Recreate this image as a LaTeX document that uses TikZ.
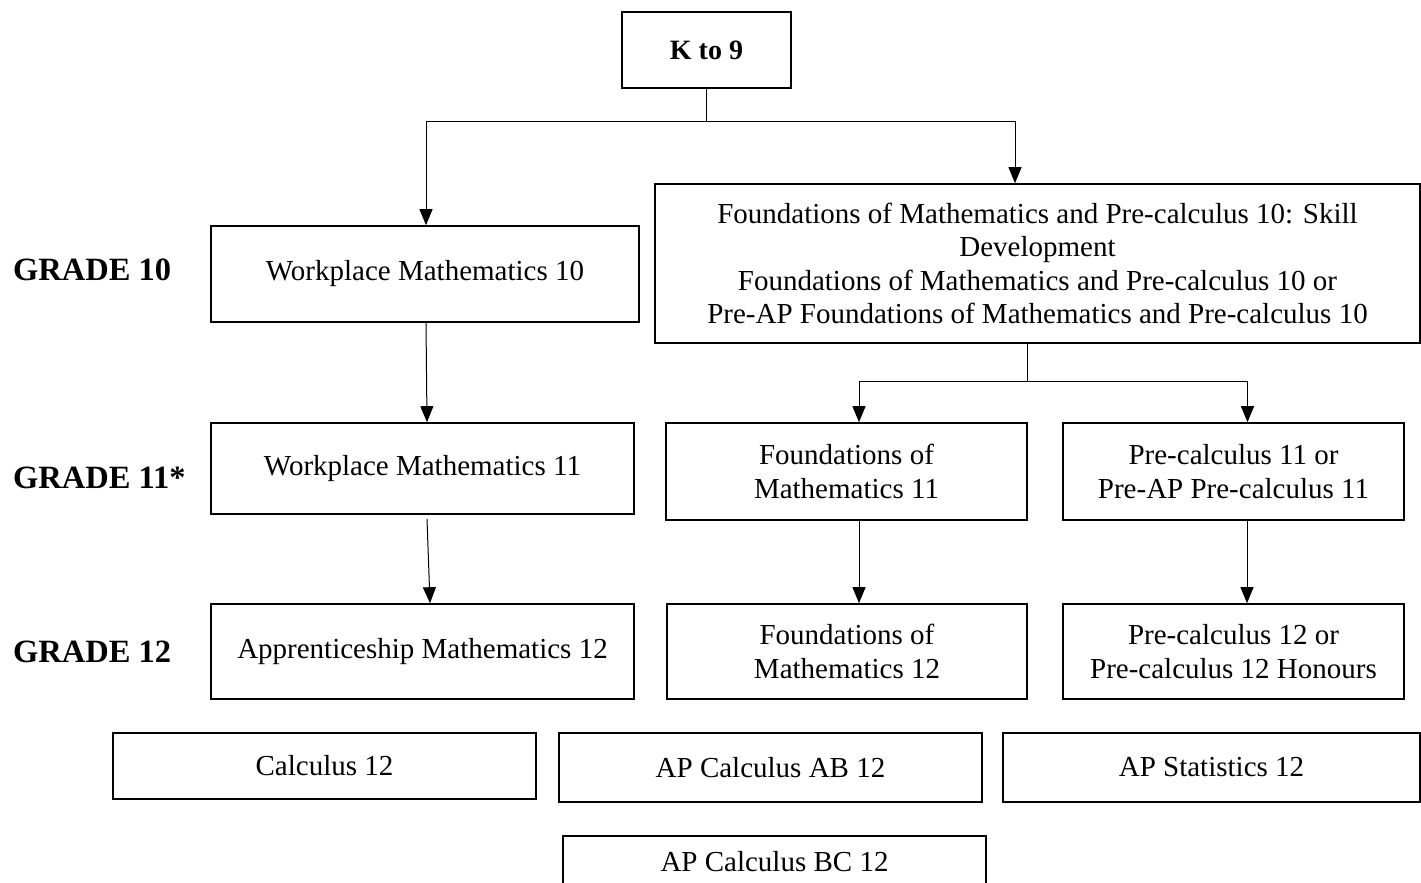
\documentclass[tikz,border=0pt]{standalone}
\usepackage{fontspec}
\setmainfont{Liberation Serif}
\usetikzlibrary{arrows.meta}
\begin{document}
\begin{tikzpicture}[x=1pt,y=-1pt,
  box/.style={draw, line width=1.6pt, align=center, inner sep=0pt,
    font=\fontsize{29}{33.5}\selectfont},
  lbl/.style={font=\fontsize{32.5}{36}\selectfont\bfseries, anchor=west, inner sep=0pt},
  conn/.style={line width=1pt},
  arr/.style={conn, -{Triangle[length=16pt,width=13pt]}}]
\useasboundingbox (0,0) rectangle (1421,883);

\node[box, minimum width=169, minimum height=76, font=\fontsize{28}{33.5}\selectfont\bfseries] (k9) at (706.5,50) {K to 9};
\node[box, minimum width=765, minimum height=159] (fm10) at (1037.5,263.5)
  {Foundations of Mathematics and Pre-calculus 10: Skill\\ Development\\
   Foundations of Mathematics and Pre-calculus 10 or\\
   Pre-AP Foundations of Mathematics and Pre-calculus 10};
\node[box, minimum width=428, minimum height=96] (wp10) at (425,274) {Workplace Mathematics 10};
\node[box, minimum width=423, minimum height=91] (wp11) at (422.5,468.5) {Workplace Mathematics 11};
\node[box, minimum width=423, minimum height=95] (ap12) at (422.5,651.5) {Apprenticeship Mathematics 12};
\node[box, minimum width=361, minimum height=97] (f11) at (846.5,471.5) {Foundations of\\ Mathematics 11};
\node[box, minimum width=341, minimum height=97] (pc11) at (1233.5,471.5) {Pre-calculus 11 or\\ Pre-AP Pre-calculus 11};
\node[box, minimum width=360, minimum height=95] (f12) at (847,651.5) {Foundations of\\ Mathematics 12};
\node[box, minimum width=341, minimum height=95] (pc12) at (1233.5,651.5) {Pre-calculus 12 or\\ Pre-calculus 12 Honours};
\node[box, minimum width=423, minimum height=66] (calc) at (324.5,766) {Calculus 12};
\node[box, minimum width=423, minimum height=69] (apab) at (770.5,767.5) {AP Calculus AB 12};
\node[box, minimum width=417, minimum height=69] (apst) at (1211.5,767.5) {AP Statistics 12};
\node[box, minimum width=423, minimum height=52] (apbc) at (774.5,862) {AP Calculus BC 12};

\node[lbl] (g10) at (13,270) {GRADE 10};
\node[lbl] (g11) at (13,478) {GRADE 11*};
\node[lbl] (g12) at (13,652) {GRADE 12};

\draw[conn] (k9.south) -- ++(0,33) coordinate (j1);
\draw[arr] (j1) -| ([xshift=1pt]wp10.north);
\draw[arr] (j1) -| ([xshift=-22.5pt]fm10.north);
\draw[arr] ([xshift=1pt]wp10.south) -- ([xshift=4.5pt]wp11.north);
\draw[arr] ([xshift=4.5pt,yshift=-4pt]wp11.south) -- ([xshift=7.5pt]ap12.north);
\draw[conn] ([xshift=-10.5pt]fm10.south) -- ++(0,38) coordinate (j2);
\draw[arr] (j2) -| ([xshift=12.5pt]f11.north);
\draw[arr] (j2) -| ([xshift=14pt]pc11.north);
\draw[arr] ([xshift=12.5pt]f11.south) -- ([xshift=12pt]f12.north);
\draw[arr] ([xshift=13.5pt]pc11.south) -- ([xshift=13.5pt]pc12.north);
\end{tikzpicture}
\end{document}
